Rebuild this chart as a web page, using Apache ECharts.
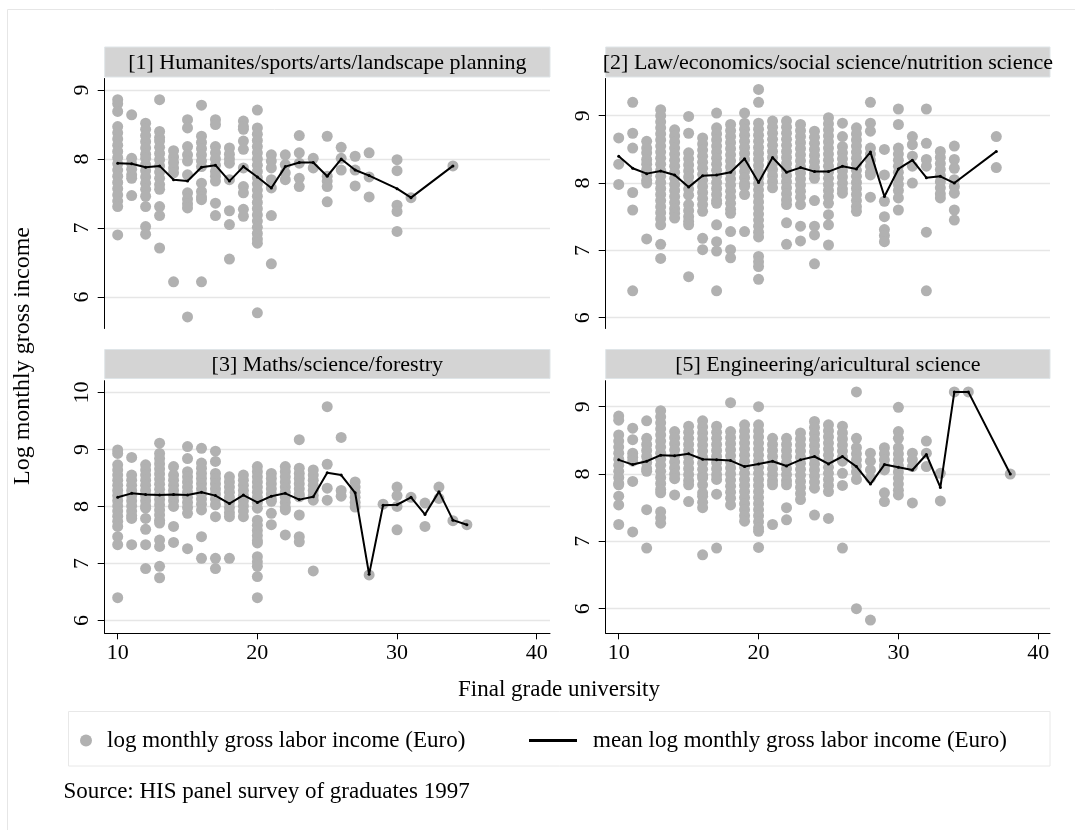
<!DOCTYPE html>
<html>
<head>
<meta charset="utf-8">
<script src="https://cdn.jsdelivr.net/npm/echarts@6/dist/echarts.min.js"></script>
<style>
html,body{margin:0;padding:0;background:#fff;}
#chart{width:1075px;height:830px;}
</style>
</head>
<body>
<div id="chart"></div>
<script>
// ---------------- DATA ----------------
const panelTitles = [
  "[1] Humanites/sports/arts/landscape planning",
  "[2] Law/economics/social science/nutrition science",
  "[3] Maths/science/forestry",
  "[5] Engineering/aricultural science"
];
const xTicks = [10, 20, 30, 40];
const yTicksA = [6, 7, 8, 9];
const yTicksB = [6, 7, 8, 9, 10];
const seriesNames = ["log monthly gross labor income (Euro)", "mean log monthly gross labor income (Euro)"];
const xTitle = "Final grade university";
const yTitle = "Log monthly gross income";
const noteText = "Source: HIS panel survey of graduates 1997";

// panel 1: [grade, [log incomes]]
const p1Income = [
  [10, [8.86, 8.80, 8.69, 8.47, 8.38, 8.29, 8.20, 8.11, 8.02, 7.93, 7.84, 7.75, 7.66, 7.57, 7.48, 7.39, 7.31, 6.90]],
  [11, [8.64, 8.01, 7.93, 7.85, 7.77, 7.72, 7.47]],
  [12, [8.52, 8.43, 8.34, 8.25, 8.16, 8.07, 8.01, 7.92, 7.83, 7.74, 7.65, 7.56, 7.46, 7.31, 7.02, 6.91]],
  [13, [8.86, 8.40, 8.31, 8.26, 8.17, 8.08, 7.99, 7.90, 7.81, 7.72, 7.63, 7.56, 7.31, 7.18, 6.71]],
  [14, [8.12, 8.03, 7.95, 7.87, 7.80, 6.22]],
  [15, [8.57, 8.45, 8.18, 8.06, 7.97, 7.77, 7.51, 7.42, 7.35, 7.29, 5.71]],
  [16, [8.78, 8.33, 8.24, 8.15, 8.06, 7.97, 7.89, 7.65, 7.53, 7.45, 7.41, 6.22]],
  [17, [8.57, 8.50, 8.18, 8.09, 8.00, 7.91, 7.82, 7.75, 7.68, 7.36, 7.18]],
  [18, [8.16, 8.07, 8.00, 7.94, 7.70, 7.25, 7.05, 6.55]],
  [19, [8.55, 8.47, 8.43, 8.26, 8.14, 7.87, 7.60, 7.51, 7.27, 7.17]],
  [20, [8.71, 8.45, 8.36, 8.27, 8.18, 8.09, 8.00, 7.91, 7.82, 7.73, 7.64, 7.55, 7.46, 7.37, 7.28, 7.19, 7.10, 7.01, 6.92, 6.84, 6.78, 5.77]],
  [21, [8.06, 7.97, 7.87, 7.70, 7.58, 7.18, 6.48]],
  [22, [8.06, 7.92, 7.80, 7.70]],
  [23, [8.34, 8.09, 7.94, 7.72, 7.60]],
  [24, [8.01, 7.87]],
  [25, [8.33, 7.75, 7.68, 7.60, 7.38]],
  [26, [8.17, 8.01, 7.84]],
  [27, [8.04, 7.84, 7.61]],
  [28, [8.09, 7.74, 7.45]],
  [30, [7.99, 7.83, 7.33, 7.24, 6.95]],
  [31, [7.44]],
  [34, [7.90]]
];
const p1Mean = [[10, 7.94], [11, 7.93], [12, 7.88], [13, 7.90], [14, 7.70], [15, 7.68], [16, 7.88], [17, 7.91], [18, 7.68], [19, 7.89], [20, 7.74], [21, 7.58], [22, 7.89], [23, 7.95], [24, 7.95], [25, 7.75], [26, 8.00], [27, 7.84], [28, 7.76], [30, 7.57], [31, 7.44], [34, 7.90]];

// panel 2
const p2Income = [
  [10, [8.67, 8.28, 7.98]],
  [11, [9.20, 8.74, 8.52, 7.86, 7.60, 6.40]],
  [12, [8.62, 8.52, 8.45, 8.35, 8.28, 8.20, 8.12, 8.04, 8.00, 7.17]],
  [13, [9.09, 9.00, 8.91, 8.82, 8.73, 8.64, 8.55, 8.46, 8.37, 8.28, 8.19, 8.10, 8.01, 7.92, 7.83, 7.74, 7.65, 7.56, 7.47, 7.38, 7.09, 6.88]],
  [14, [8.79, 8.70, 8.61, 8.52, 8.43, 8.34, 8.25, 8.16, 8.07, 7.98, 7.89, 7.80, 7.71, 7.62, 7.55, 7.48]],
  [15, [8.99, 8.74, 8.45, 8.36, 8.27, 8.18, 8.09, 8.00, 7.91, 7.82, 7.68, 7.59, 7.50, 7.43, 7.38, 6.61]],
  [16, [8.67, 8.58, 8.49, 8.40, 8.31, 8.22, 8.13, 8.04, 7.95, 7.86, 7.77, 7.68, 7.58, 7.18, 7.01]],
  [17, [9.04, 8.82, 8.73, 8.64, 8.55, 8.46, 8.37, 8.28, 8.19, 8.10, 8.01, 7.92, 7.83, 7.74, 7.70, 7.38, 7.13, 6.99, 6.40]],
  [18, [8.87, 8.78, 8.69, 8.60, 8.51, 8.42, 8.33, 8.24, 8.15, 8.06, 7.97, 7.88, 7.79, 7.70, 7.61, 7.55, 7.28, 7.01, 6.89]],
  [19, [9.04, 8.89, 8.80, 8.71, 8.62, 8.53, 8.44, 8.35, 8.26, 8.17, 8.08, 7.99, 7.95, 7.83, 7.28]],
  [20, [9.39, 9.20, 8.89, 8.80, 8.71, 8.62, 8.53, 8.44, 8.35, 8.26, 8.17, 8.08, 7.99, 7.90, 7.81, 7.72, 7.63, 7.54, 7.45, 7.36, 7.27, 7.20, 6.91, 6.83, 6.76, 6.57]],
  [21, [8.92, 8.83, 8.74, 8.65, 8.56, 8.47, 8.38, 8.29, 8.20, 8.11, 8.02, 7.93]],
  [22, [8.92, 8.83, 8.74, 8.65, 8.56, 8.47, 8.38, 8.29, 8.20, 8.11, 8.02, 7.93, 7.84, 7.75, 7.68, 7.41, 7.09]],
  [23, [8.87, 8.78, 8.69, 8.60, 8.51, 8.42, 8.33, 8.24, 8.15, 8.06, 7.97, 7.88, 7.79, 7.68, 7.36, 7.14]],
  [24, [8.77, 8.68, 8.59, 8.50, 8.41, 8.32, 8.23, 8.14, 8.07, 7.74, 7.36, 7.23, 6.80]],
  [25, [8.97, 8.88, 8.79, 8.70, 8.61, 8.52, 8.43, 8.34, 8.25, 8.16, 8.07, 7.98, 7.89, 7.80, 7.70, 7.53, 7.38, 7.08]],
  [26, [8.89, 8.69, 8.54, 8.45, 8.36, 8.27, 8.18, 8.09, 8.00, 7.91, 7.85]],
  [27, [8.82, 8.73, 8.64, 8.55, 8.46, 8.37, 8.28, 8.19, 8.10, 8.01, 7.92, 7.83, 7.74, 7.65, 7.58]],
  [28, [9.20, 8.89, 8.77, 8.52, 8.43, 8.34, 8.25, 8.16, 8.12, 7.79]],
  [29, [8.50, 8.12, 7.73, 7.50, 7.31, 7.22, 7.13]],
  [30, [9.10, 8.87, 8.52, 8.43, 8.34, 8.25, 8.16, 8.07, 7.98, 7.89, 7.78, 7.60]],
  [31, [8.69, 8.57, 8.40, 8.25, 8.00]],
  [32, [9.10, 8.59, 8.35, 8.25, 7.27, 6.40]],
  [33, [8.47, 8.38, 8.29, 8.20, 8.11, 8.02, 7.93, 7.84, 7.78]],
  [34, [8.55, 8.35, 8.22, 8.05, 7.95, 7.85, 7.60, 7.45]],
  [37, [8.69, 8.23]]
];
const p2Mean = [[10, 8.40], [11, 8.22], [12, 8.14], [13, 8.18], [14, 8.12], [15, 7.94], [16, 8.11], [17, 8.12], [18, 8.16], [19, 8.36], [20, 8.01], [21, 8.38], [22, 8.16], [23, 8.23], [24, 8.17], [25, 8.17], [26, 8.25], [27, 8.21], [28, 8.46], [29, 7.80], [30, 8.21], [31, 8.34], [32, 8.08], [33, 8.10], [34, 8.00], [37, 8.47]];

// panel 3
const p3Income = [
  [10, [8.99, 8.93, 8.73, 8.64, 8.55, 8.46, 8.37, 8.28, 8.19, 8.10, 8.01, 7.92, 7.83, 7.74, 7.65, 7.47, 7.33, 6.40]],
  [11, [8.86, 8.55, 8.46, 8.37, 8.28, 8.19, 8.10, 8.01, 7.92, 7.84, 7.79, 7.33]],
  [12, [8.73, 8.64, 8.55, 8.46, 8.37, 8.28, 8.19, 8.10, 8.01, 7.97, 7.79, 7.60, 7.33, 6.91]],
  [13, [9.11, 8.93, 8.84, 8.75, 8.66, 8.57, 8.48, 8.39, 8.30, 8.21, 8.12, 8.03, 7.94, 7.85, 7.76, 7.71, 7.41, 7.30, 6.95, 6.75]],
  [14, [8.70, 8.55, 8.46, 8.37, 8.28, 8.19, 8.10, 8.00, 7.65, 7.37]],
  [15, [9.05, 8.84, 8.61, 8.52, 8.43, 8.34, 8.25, 8.16, 8.07, 7.98, 7.88, 7.26]],
  [16, [9.02, 8.76, 8.67, 8.58, 8.49, 8.40, 8.31, 8.22, 8.13, 8.04, 7.94, 7.47, 7.09]],
  [17, [8.97, 8.79, 8.58, 8.49, 8.40, 8.31, 8.22, 8.13, 8.03, 7.82, 7.09, 6.91]],
  [18, [8.52, 8.43, 8.34, 8.25, 8.16, 8.07, 7.98, 7.89, 7.82, 7.09]],
  [19, [8.55, 8.46, 8.37, 8.28, 8.19, 8.10, 8.01, 7.92, 7.82]],
  [20, [8.70, 8.61, 8.52, 8.43, 8.34, 8.25, 8.16, 8.07, 7.97, 7.76, 7.67, 7.58, 7.49, 7.40, 7.36, 7.12, 7.03, 6.95, 6.77, 6.40]],
  [21, [8.58, 8.49, 8.40, 8.31, 8.22, 8.13, 8.09, 7.88, 7.68]],
  [22, [8.70, 8.61, 8.52, 8.43, 8.34, 8.25, 8.16, 8.07, 7.98, 7.94, 7.50]],
  [23, [9.17, 8.67, 8.58, 8.49, 8.40, 8.31, 8.22, 8.17, 7.85, 7.47, 7.38]],
  [24, [8.64, 8.55, 8.46, 8.37, 8.28, 8.19, 8.11, 6.87]],
  [25, [9.75, 8.74, 8.32, 8.11]],
  [26, [9.21, 8.28, 8.18]],
  [27, [8.43, 8.34, 8.25, 8.16, 8.07, 7.99]],
  [28, [6.80]],
  [29, [8.04]],
  [30, [8.34, 8.19, 8.00, 7.59]],
  [31, [8.16]],
  [32, [8.06, 7.65]],
  [33, [8.34, 8.14]],
  [34, [7.75]],
  [35, [7.68]]
];
const p3Mean = [[10, 8.16], [11, 8.23], [12, 8.21], [13, 8.20], [14, 8.21], [15, 8.20], [16, 8.25], [17, 8.19], [18, 8.05], [19, 8.20], [20, 8.07], [21, 8.18], [22, 8.23], [23, 8.12], [24, 8.17], [25, 8.59], [26, 8.55], [27, 8.24], [28, 6.81], [29, 8.02], [30, 8.03], [31, 8.16], [32, 7.86], [33, 8.26], [34, 7.76], [35, 7.68]];

// panel 4 (group [5])
const p4Income = [
  [10, [8.86, 8.80, 8.58, 8.49, 8.40, 8.31, 8.22, 8.13, 8.04, 7.95, 7.86, 7.84, 7.67, 7.54, 7.25]],
  [11, [8.68, 8.51, 8.31, 8.25, 8.19, 7.89, 7.14]],
  [12, [8.79, 8.53, 8.44, 8.35, 8.26, 8.17, 8.08, 8.04, 7.47, 6.90]],
  [13, [8.94, 8.85, 8.76, 8.67, 8.58, 8.49, 8.40, 8.31, 8.22, 8.13, 8.04, 7.95, 7.86, 7.77, 7.72, 7.44, 7.35, 7.27]],
  [14, [8.63, 8.54, 8.45, 8.36, 8.27, 8.18, 8.09, 8.00, 7.93, 7.69]],
  [15, [8.71, 8.62, 8.53, 8.44, 8.35, 8.26, 8.17, 8.08, 7.99, 7.90, 7.84, 7.59]],
  [16, [8.79, 8.70, 8.61, 8.52, 8.43, 8.34, 8.25, 8.16, 8.07, 7.98, 7.94, 7.84, 7.72, 7.67, 7.58, 7.50, 6.80]],
  [17, [8.71, 8.62, 8.53, 8.44, 8.35, 8.26, 8.17, 8.08, 7.99, 7.92, 7.70, 6.90]],
  [18, [9.06, 8.63, 8.54, 8.45, 8.36, 8.27, 8.18, 8.09, 8.00, 7.91, 7.82, 7.73, 7.64, 7.54]],
  [19, [8.73, 8.64, 8.55, 8.46, 8.37, 8.28, 8.19, 8.10, 8.01, 7.92, 7.83, 7.74, 7.65, 7.56, 7.47, 7.38, 7.30]],
  [20, [9.00, 8.73, 8.64, 8.55, 8.46, 8.37, 8.28, 8.19, 8.10, 8.01, 7.92, 7.83, 7.74, 7.65, 7.56, 7.47, 7.38, 7.29, 7.20, 7.15, 6.91]],
  [21, [8.53, 8.44, 8.35, 8.26, 8.17, 8.08, 7.99, 7.90, 7.84, 7.25]],
  [22, [8.53, 8.44, 8.35, 8.26, 8.17, 8.08, 7.99, 7.90, 7.84, 7.50, 7.32]],
  [23, [8.61, 8.52, 8.43, 8.34, 8.25, 8.16, 8.07, 7.98, 7.89, 7.80, 7.71, 7.62]],
  [24, [8.78, 8.69, 8.60, 8.51, 8.42, 8.33, 8.24, 8.15, 8.06, 7.97, 7.88, 7.79, 7.39]],
  [25, [8.73, 8.64, 8.55, 8.46, 8.37, 8.28, 8.19, 8.10, 8.01, 7.92, 7.83, 7.74, 7.34]],
  [26, [8.71, 8.61, 8.52, 8.43, 8.34, 8.25, 8.19, 8.01, 7.83, 6.90]],
  [27, [9.22, 8.53, 8.39, 8.30, 8.21, 8.12, 8.03, 7.92, 6.00]],
  [28, [8.31, 8.19, 8.06, 7.94, 5.83]],
  [29, [8.39, 8.30, 8.21, 8.12, 8.06, 7.72, 7.59]],
  [30, [8.99, 8.63, 8.53, 8.39, 8.30, 8.21, 8.12, 8.03, 7.94, 7.85, 7.76, 7.69]],
  [31, [8.31, 8.21, 8.11, 7.57]],
  [32, [8.49, 8.31, 8.11]],
  [33, [8.01, 7.60]],
  [34, [9.22]],
  [35, [9.22]],
  [38, [8.00]]
];
const p4Mean = [[10, 8.21], [11, 8.14], [12, 8.19], [13, 8.28], [14, 8.27], [15, 8.30], [16, 8.22], [17, 8.21], [18, 8.20], [19, 8.11], [20, 8.15], [21, 8.19], [22, 8.12], [23, 8.21], [24, 8.26], [25, 8.15], [26, 8.26], [27, 8.11], [28, 7.85], [29, 8.14], [30, 8.10], [31, 8.06], [32, 8.29], [33, 7.80], [34, 9.22], [35, 9.22], [38, 8.00]];

// ---------------- LAYOUT ----------------
const FONT = "'Liberation Serif', 'Times New Roman', serif";
const panels = [
  { income: p1Income, mean: p1Mean, grid: {left: 104.7, top: 78.5, width: 445.3, height: 250}, x: [9.07, 40.95], y: [5.543, 9.167], yTicks: yTicksA, showX: false },
  { income: p2Income, mean: p2Mean, grid: {left: 605.7, top: 78.5, width: 444.3, height: 250}, x: [9.07, 40.84], y: [5.84, 9.553], yTicks: yTicksA, showX: false },
  { income: p3Income, mean: p3Mean, grid: {left: 104.7, top: 380.7, width: 445.3, height: 252.6}, x: [9.07, 40.95], y: [5.776, 10.205], yTicks: yTicksB, showX: true },
  { income: p4Income, mean: p4Mean, grid: {left: 605.7, top: 380.7, width: 444.3, height: 252.6}, x: [9.07, 40.84], y: [5.634, 9.386], yTicks: yTicksA, showX: true }
];
const stripTop = [47, 47, 349.5, 349.5];
const stripH = [30, 30, 29, 29];

const grids = [], xAxes = [], yAxes = [], series = [], graphics = [];
panels.forEach((p, i) => {
  grids.push(Object.assign({containLabel: false}, p.grid));
  xAxes.push({
    type: 'value', gridIndex: i, min: p.x[0], max: p.x[1],
    axisLine: {show: p.showX, onZero: false, lineStyle: {color: '#000', width: 1}},
    axisTick: {show: p.showX, length: 6, customValues: xTicks, lineStyle: {color: '#000'}},
    axisLabel: {show: p.showX, customValues: xTicks, margin: 9, fontSize: 22, fontFamily: FONT, color: '#000'},
    splitLine: {show: false}
  });
  yAxes.push({
    type: 'value', gridIndex: i, min: p.y[0], max: p.y[1],
    axisLine: {show: true, onZero: false, lineStyle: {color: '#000', width: 1}},
    axisTick: {show: true, length: 7, customValues: p.yTicks, lineStyle: {color: '#000'}},
    axisLabel: {customValues: p.yTicks, rotate: 90, margin: 11, fontSize: 22, fontFamily: FONT, color: '#000'},
    splitLine: {show: true, lineStyle: {color: '#e6e6e6', width: 1.3}}
  });
  const pts = [];
  p.income.forEach(([g, vals]) => vals.forEach(v => pts.push([g, v])));
  series.push({
    type: 'scatter', name: seriesNames[0], xAxisIndex: i, yAxisIndex: i, data: pts,
    symbol: 'circle', symbolSize: 11, itemStyle: {color: '#b1b1b1', opacity: 1}, z: 2, silent: true
  });
  series.push({
    type: 'line', name: seriesNames[1], xAxisIndex: i, yAxisIndex: i, data: p.mean,
    symbol: 'circle', symbolSize: 3, showSymbol: true, itemStyle: {color: '#000'},
    lineStyle: {color: '#000', width: 2}, z: 3, silent: true
  });
  const g = p.grid;
  graphics.push({
    type: 'rect', shape: {x: g.left, y: stripTop[i], width: g.width, height: stripH[i]},
    style: {fill: '#d4d4d4', stroke: '#dfe5e8', lineWidth: 1}, z: 1
  });
  graphics.push({
    type: 'text', x: g.left + g.width / 2, y: stripTop[i] + stripH[i] / 2 + 1,
    style: {text: panelTitles[i], font: '22px ' + FONT, fill: '#000', textAlign: 'center', textVerticalAlign: 'middle'}, z: 2
  });
});

// outer frame, legend box, titles, note
graphics.push({type: 'rect', shape: {x: 7.5, y: 9.5, width: 1200, height: 1000}, style: {fill: 'none', stroke: '#e6e6e6', lineWidth: 1}, z: 0});
graphics.push({type: 'rect', shape: {x: 68.5, y: 711.5, width: 981.5, height: 54.5}, style: {fill: '#fff', stroke: '#e8e8e8', lineWidth: 1}, z: 0});
graphics.push({type: 'text', x: 23, y: 356, rotation: Math.PI / 2,
  style: {text: yTitle, font: '24px ' + FONT, fill: '#000', textAlign: 'center', textVerticalAlign: 'middle'}});
graphics.push({type: 'text', x: 559, y: 690,
  style: {text: xTitle, font: '23px ' + FONT, fill: '#000', textAlign: 'center', textVerticalAlign: 'middle'}});
graphics.push({type: 'text', x: 63.5, y: 792,
  style: {text: noteText, font: '23px ' + FONT, fill: '#000', textAlign: 'left', textVerticalAlign: 'middle'}});

const option = {
  animation: false,
  backgroundColor: '#fff',
  grid: grids,
  xAxis: xAxes,
  yAxis: yAxes,
  legend: [
    {data: [{name: seriesNames[0], icon: 'circle'}], left: 80, top: 729, padding: 0, itemWidth: 12, itemHeight: 12,
     selectedMode: false, textStyle: {fontSize: 23, fontFamily: FONT, color: '#000', padding: [0, 0, 0, 10]}},
    {data: [{name: seriesNames[1], icon: 'rect'}], left: 529, top: 729, padding: 0, itemWidth: 48, itemHeight: 3,
     selectedMode: false, textStyle: {fontSize: 23, fontFamily: FONT, color: '#000', padding: [0, 0, 0, 11]}}
  ],
  graphic: graphics,
  series: series
};
const chart = echarts.init(document.getElementById('chart'), null, {renderer: 'canvas'});
chart.setOption(option);
</script>
</body>
</html>
